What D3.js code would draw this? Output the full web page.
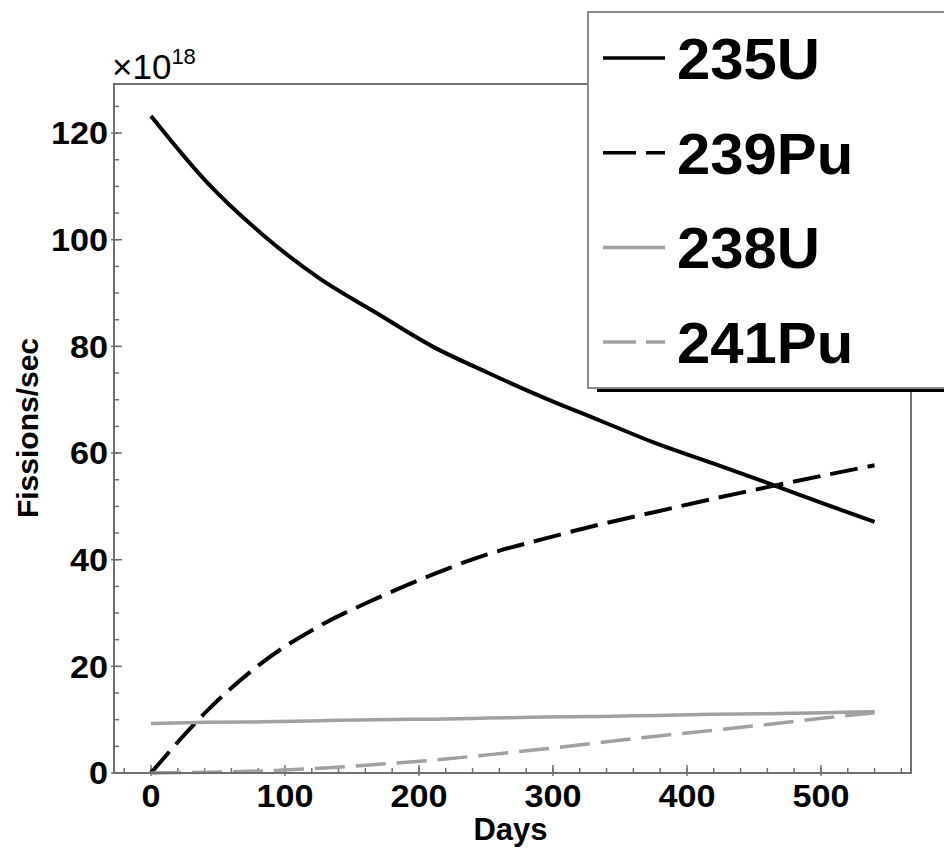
<!DOCTYPE html>
<html>
<head>
<meta charset="utf-8">
<script src="https://cdn.jsdelivr.net/npm/d3@7"></script>
<style>
    html, body { margin: 0; padding: 0; background: #fff; }
    svg { display: block; font-family: "Liberation Sans", Arial, Helvetica, sans-serif; }
</style>
</head>
<body>
<div id="chart" style="width:944px;height:848px"></div>
<script>
    "use strict";

    var days = [0, 42, 84, 126, 168, 210, 251, 293, 335, 377, 419, 460, 502, 540];
    // Fission rates, units of 1e18 fissions/sec.
    var u235 = [123.2, 110.7, 100.8, 92.7, 86.3, 80.0, 75.1, 70.4, 66.1, 61.8, 58.1, 54.4, 50.5, 47.1];
    var pu239 = [0, 11.7, 20.9, 27.6, 32.7, 37.2, 41.0, 43.9, 46.6, 49.0, 51.4, 53.6, 55.8, 57.7];
    var u238 = [9.3, 9.5, 9.6, 9.8, 10.0, 10.1, 10.3, 10.5, 10.6, 10.8, 11.0, 11.1, 11.3, 11.5];
    var pu241 = [0, 0.15, 0.4, 0.9, 1.6, 2.4, 3.4, 4.5, 5.7, 6.9, 8.0, 9.1, 10.3, 11.3];

    var seriesNames = ["235U", "239Pu", "238U", "241Pu"];
    var seriesValues = [u235, pu239, u238, pu241];
    var seriesColors = ["#000", "#000", "#a0a0a0", "#a0a0a0"];
    var seriesDashes = [null, "28,10", null, "30,11"];
    var seriesWidths = [4, 4, 3.5, 3.5];

    var xTicks = [0, 100, 200, 300, 400, 500];
    var yTicks = [0, 20, 40, 60, 80, 100, 120];

    var width = 944, height = 848;
    var frame = {left: 114, right: 911, top: 84, bottom: 773};

    var svg = d3.select("#chart").append("svg")
        .attr("width", width)
        .attr("height", height);

    // 0 days sits at x=151, 134 px per 100 days.
    var x = d3.scaleLinear().domain([-27.6, 567.2]).range([frame.left, frame.right]);
    var y = d3.scaleLinear().domain([0, 129.2]).range([frame.bottom, frame.top]);

    var axisColor = "#707070";

    // Minor ticks.
    var g = svg.append("g").attr("class", "ticks");
    g.selectAll("line.xminor")
        .data(d3.range(-20, 561, 20))
        .enter().append("line")
        .attr("x1", function (d) { return x(d); })
        .attr("x2", function (d) { return x(d); })
        .attr("y1", frame.bottom)
        .attr("y2", frame.bottom - 5)
        .attr("stroke", axisColor).attr("stroke-width", 1.5);
    g.selectAll("line.yminor")
        .data(d3.range(0, 126, 5))
        .enter().append("line")
        .attr("x1", frame.left)
        .attr("x2", frame.left + 5)
        .attr("y1", function (d) { return y(d); })
        .attr("y2", function (d) { return y(d); })
        .attr("stroke", axisColor).attr("stroke-width", 1.5);

    // Major ticks.
    g.selectAll("line.xmajor")
        .data(xTicks)
        .enter().append("line")
        .attr("x1", function (d) { return x(d); })
        .attr("x2", function (d) { return x(d); })
        .attr("y1", frame.bottom + 3)
        .attr("y2", frame.bottom - 8)
        .attr("stroke", axisColor).attr("stroke-width", 1.5);
    g.selectAll("line.ymajor")
        .data(yTicks)
        .enter().append("line")
        .attr("x1", frame.left - 3)
        .attr("x2", frame.left + 8)
        .attr("y1", function (d) { return y(d); })
        .attr("y2", function (d) { return y(d); })
        .attr("stroke", axisColor).attr("stroke-width", 1.5);

    // Tick labels (the reference glyphs are a little wider than Liberation's).
    svg.append("g").selectAll("text")
        .data(xTicks)
        .enter().append("text")
        .attr("transform", function (d) { return "translate(" + x(d) + ",807) scale(1.07,1)"; })
        .attr("text-anchor", "middle")
        .attr("font-size", 32)
        .attr("font-weight", "bold")
        .text(function (d) { return d; });
    svg.append("g").selectAll("text")
        .data(yTicks)
        .enter().append("text")
        .attr("transform", function (d) { return "translate(" + (frame.left - 6) + "," + y(d) + ") scale(1.07,1)"; })
        .attr("dy", "0.35em")
        .attr("text-anchor", "end")
        .attr("font-size", 32)
        .attr("font-weight", "bold")
        .text(function (d) { return d; });

    // Axis titles.
    svg.append("text")
        .attr("x", (frame.left + frame.right) / 2 - 2)
        .attr("y", 840)
        .attr("text-anchor", "middle")
        .attr("font-size", 31)
        .attr("font-weight", "bold")
        .text("Days");
    svg.append("text")
        .attr("transform", "translate(38,428) rotate(-90)")
        .attr("text-anchor", "middle")
        .attr("font-size", 30)
        .attr("font-weight", "bold")
        .text("Fissions/sec");

    // Exponent label.
    var exp = svg.append("text")
        .attr("x", 112)
        .attr("y", 79)
        .attr("font-size", 35);
    exp.append("tspan").text("\u00d710");
    exp.append("tspan").attr("font-size", 22).attr("dy", -15).text("18");

    // The curves.
    var line = d3.line()
        .x(function (d, i) { return x(days[i]); })
        .y(function (d) { return y(d); })
        .curve(d3.curveMonotoneX);

    svg.append("g").attr("class", "curves")
        .selectAll("path")
        .data(seriesValues)
        .enter().append("path")
        .attr("d", function (d) { return line(d); })
        .attr("fill", "none")
        .attr("stroke", function (d, i) { return seriesColors[i]; })
        .attr("stroke-width", function (d, i) { return seriesWidths[i]; })
        .attr("stroke-dasharray", function (d, i) { return seriesDashes[i]; });

    // Frame (top-right corner is hidden by the legend).
    svg.append("path")
        .attr("d", "M" + 588 + "," + frame.top + "H" + frame.left + "V" + frame.bottom +
            "H" + frame.right + "V" + 388)
        .attr("fill", "none")
        .attr("stroke", axisColor)
        .attr("stroke-width", 2);

    // Legend box with a drop shadow.
    var legend = svg.append("g").attr("class", "legend");
    legend.append("rect")
        .attr("x", 597).attr("y", 21)
        .attr("width", 400).attr("height", 371)
        .attr("fill", "#000");
    legend.append("rect")
        .attr("x", 588).attr("y", 12)
        .attr("width", 400).attr("height", 376)
        .attr("fill", "#fff")
        .attr("stroke", "#8a8a8a")
        .attr("stroke-width", 2);

    var rows = legend.selectAll("g.row")
        .data(seriesNames)
        .enter().append("g")
        .attr("transform", function (d, i) { return "translate(0," + (58 + i * 94.7) + ")"; });
    rows.append("line")
        .attr("x1", 603).attr("x2", 665)
        .attr("stroke", function (d, i) { return seriesColors[i]; })
        .attr("stroke-width", 3.5)
        .attr("stroke-dasharray", function (d, i) { return seriesDashes[i] ? "33,10" : null; });
    rows.append("text")
        .attr("transform", "translate(677,21) scale(1.05,1)")
        .attr("font-size", 57)
        .attr("font-weight", "bold")
        .text(function (d) { return d; });
</script>
</body>
</html>
